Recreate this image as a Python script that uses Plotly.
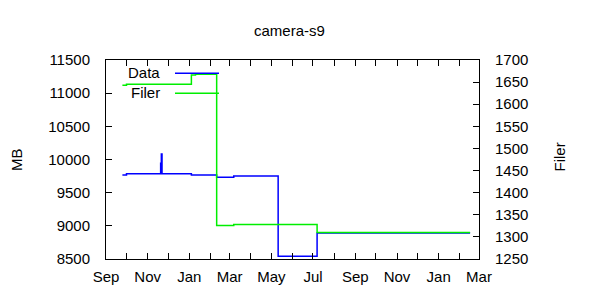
import plotly.graph_objects as go

# Data series (MB, left axis)
data_dates = ["2008-09-25", "2008-10-01", "2008-11-20", "2008-11-21", "2008-11-22",
              "2009-01-04", "2009-02-10", "2009-03-07", "2009-05-11", "2009-07-07",
              "2010-02-16"]
data_mb = [9766, 9786, 9943, 10083, 9786, 9766, 9734, 9751, 8541, 8892, 8892]

# Filer series (count, right axis)
filer_dates = ["2008-09-25", "2008-10-01", "2009-01-04", "2009-01-10",
               "2009-02-10", "2009-03-07", "2009-07-07", "2010-02-16"]
filer_count = [1643, 1645, 1666, 1668, 1326, 1328, 1310, 1310]

title = "camera-s9"
left_ticks = [8500, 9000, 9500, 10000, 10500, 11000, 11500]
right_ticks = [1250, 1300, 1350, 1400, 1450, 1500, 1550, 1600, 1650, 1700]

BLUE = "#0000ff"
GREEN = "#00ee00"
FONT = "Liberation Sans, Arial, sans-serif"
FS = 15

fig = go.Figure()
fig.add_trace(go.Scatter(x=data_dates, y=data_mb, mode="lines",
                         line=dict(color=BLUE, width=1.5, shape="hv"),
                         name="Data", yaxis="y"))
fig.add_trace(go.Scatter(x=filer_dates, y=filer_count, mode="lines",
                         line=dict(color=GREEN, width=1.5, shape="hv"),
                         name="Filer", yaxis="y2"))

axis_common = dict(showline=True, linecolor="black", linewidth=1, ticks="inside",
                   tickcolor="black", showgrid=False, zeroline=False,
                   tickfont=dict(family=FONT, size=FS, color="black"))

fig.update_layout(
    width=600, height=300,
    margin=dict(l=106, r=121, t=60, b=41),
    paper_bgcolor="white", plot_bgcolor="white",
    showlegend=False,
    font=dict(family=FONT, size=FS, color="black"),
    xaxis=dict(type="date", range=["2008-09-01", "2010-03-01"], tick0="2008-09-01",
               dtick="M2", tickformat="%b", mirror="allticks", ticklen=6,
               minor=dict(ticks="inside", dtick="M1", ticklen=3, tickcolor="black",
                          tick0="2008-09-01"),
               ticklabelstandoff=4,
               **axis_common),
    yaxis=dict(range=[8500, 11500], tickvals=left_ticks,
               ticktext=[str(v) for v in left_ticks], ticklen=6,
               ticklabelstandoff=12, mirror=False, **axis_common),
    yaxis2=dict(range=[1250, 1700], tickvals=right_ticks,
                ticktext=[str(v) for v in right_ticks], overlaying="y", side="right",
                ticklen=6, ticklabelstandoff=12, **axis_common),
)

ann = []
def A(text, x, y, **kw):
    d = dict(text=text, x=x, y=y, xref="paper", yref="paper", showarrow=False,
             xanchor="center", yanchor="middle", font=dict(size=FS))
    d.update(kw)
    ann.append(d)

px = lambda x: (x - 106) / 373
py = lambda y: (259 - y) / 199
A(title, px(289), py(30))
A("MB", px(16), py(160), textangle=-90)
A("Filer", px(558.5), py(157), textangle=-90)
# legend (gnuplot style: text then sample line)
A("Data", px(162), py(72.5), xanchor="right")
A("Filer", px(162), py(92.5), xanchor="right")
fig.update_layout(annotations=ann)
fig.add_shape(type="line", xref="paper", yref="paper", x0=px(175), x1=px(219),
              y0=py(73.3), y1=py(73.3), line=dict(color=BLUE, width=1.5))
fig.add_shape(type="line", xref="paper", yref="paper", x0=px(175), x1=px(219),
              y0=py(93.3), y1=py(93.3), line=dict(color=GREEN, width=1.5))

fig.write_html("out.html")
